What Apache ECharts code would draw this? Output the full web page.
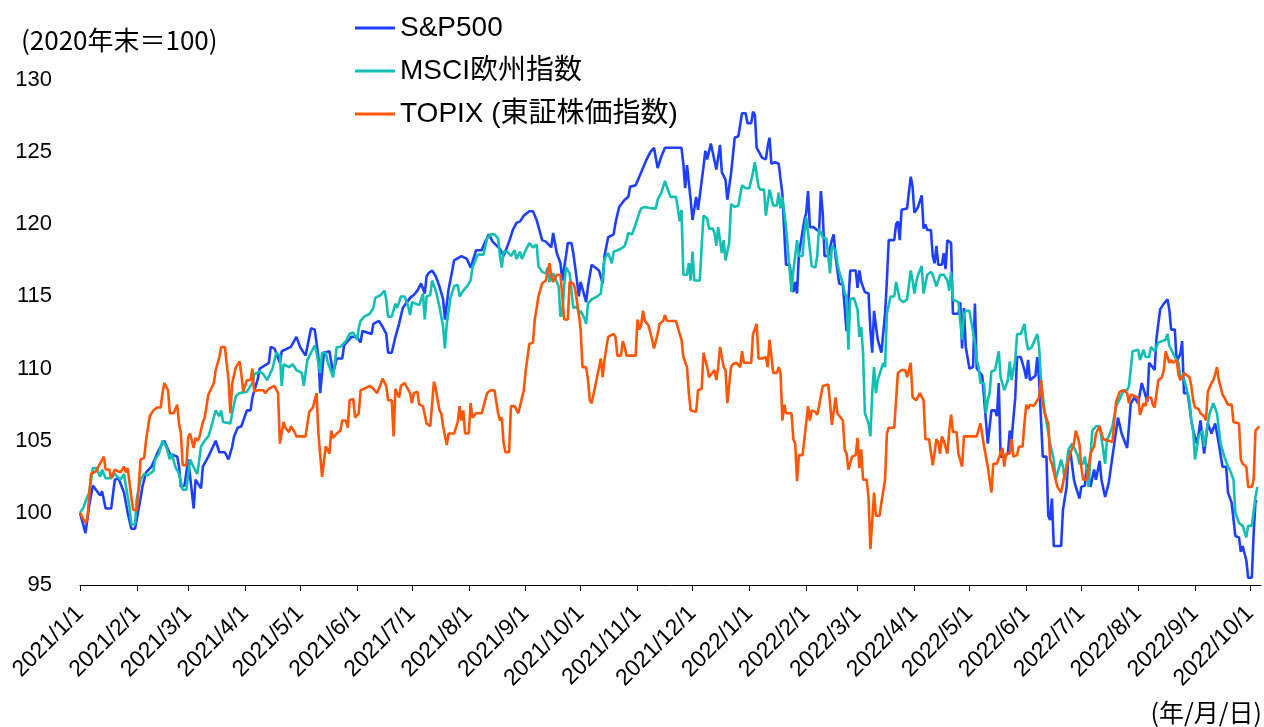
<!DOCTYPE html>
<html>
<head>
<meta charset="utf-8">
<script src="https://cdn.jsdelivr.net/npm/echarts@6.0.0/dist/echarts.min.js"></script>
<style>
    html, body { margin: 0; padding: 0; background: #fff; }
    #main { width: 1264px; height: 727px; }
</style>
</head>
<body>
<div id="main"></div>
<script>
    // 2020年末＝100 として読み取った値
    let spx500 = [
        ['2021/1/1',100],['2021/1/4',98.6],['2021/1/6',100.5],['2021/1/8',101.9],['2021/1/12',101.2],['2021/1/13',101.5],
        ['2021/1/15',100.3],['2021/1/18',100.3],['2021/1/20',102.3],['2021/1/22',102.4],['2021/1/25',101.4],['2021/1/27',100.0],
        ['2021/1/29',98.9],['2021/1/31',98.9],['2021/2/3',101.0],['2021/2/4',101.8],['2021/2/6',102.8],['2021/2/9',103.2],
        ['2021/2/12',104.1],['2021/2/14',104.6],['2021/2/16',105.0],['2021/2/19',104.1],['2021/2/23',103.9],['2021/2/24',103.2],
        ['2021/2/25',101.8],['2021/2/27',101.9],['2021/3/1',103.7],['2021/3/4',100.3],['2021/3/5',102.3],['2021/3/8',101.7],
        ['2021/3/9',103.2],['2021/3/12',103.9],['2021/3/16',105.0],['2021/3/17',104.9],['2021/3/18',104.2],['2021/3/21',104.2],
        ['2021/3/23',103.7],['2021/3/25',104.6],['2021/3/26',105.3],['2021/3/28',105.9],['2021/3/30',106.0],['2021/4/2',107.1],
        ['2021/4/4',107.1],['2021/4/5',108.0],['2021/4/8',109.3],['2021/4/9',110.0],['2021/4/14',110.4],['2021/4/15',111.5],
        ['2021/4/17',111.4],['2021/4/20',110.4],['2021/4/21',111.2],['2021/4/26',111.5],['2021/4/29',112.2],['2021/5/1',111.5],
        ['2021/5/4',110.9],['2021/5/7',112.8],['2021/5/9',112.7],['2021/5/11',110.8],['2021/5/12',108.3],['2021/5/14',111.1],
        ['2021/5/17',111.2],['2021/5/19',109.7],['2021/5/21',110.7],['2021/5/24',110.7],['2021/5/25',111.6],['2021/5/29',112.2],
        ['2021/6/1',112.2],['2021/6/3',111.8],['2021/6/4',112.6],['2021/6/9',112.4],['2021/6/10',113.1],['2021/6/13',113.3],
        ['2021/6/15',112.9],['2021/6/17',112.4],['2021/6/18',111.1],['2021/6/20',111.1],['2021/6/22',112.2],['2021/6/24',113.1],
        ['2021/6/26',114.2],['2021/6/30',114.9],['2021/7/2',115.1],['2021/7/4',115.4],['2021/7/6',115.9],['2021/7/8',115.2],
        ['2021/7/9',116.4],['2021/7/10',116.6],['2021/7/12',116.8],['2021/7/14',116.4],['2021/7/16',115.7],['2021/7/18',114.8],
        ['2021/7/19',113.4],['2021/7/21',115.5],['2021/7/23',116.8],['2021/7/24',117.5],['2021/7/28',117.8],['2021/7/31',117.6],
        ['2021/8/2',117.0],['2021/8/4',117.8],['2021/8/5',118.2],['2021/8/8',118.2],['2021/8/10',118.8],['2021/8/12',119.3],
        ['2021/8/14',118.8],['2021/8/18',118.3],['2021/8/20',117.8],['2021/8/23',118.8],['2021/8/25',119.6],['2021/8/27',120.1],
        ['2021/8/29',120.2],['2021/8/31',120.6],['2021/9/3',120.9],['2021/9/5',120.9],['2021/9/7',120.3],['2021/9/10',118.9],
        ['2021/9/12',118.8],['2021/9/15',118.4],['2021/9/16',119.4],['2021/9/18',118.0],['2021/9/20',117.3],['2021/9/21',116.1],
        ['2021/9/23',117.8],['2021/9/24',118.7],['2021/9/26',118.7],['2021/9/27',118.0],['2021/9/29',116.1],['2021/9/30',115.0],
        ['2021/10/1',116.0],['2021/10/4',114.6],['2021/10/5',115.7],['2021/10/7',117.2],['2021/10/11',116.8],['2021/10/13',115.9],
        ['2021/10/14',117.8],['2021/10/16',119.1],['2021/10/19',119.3],['2021/10/20',120.1],['2021/10/22',121.2],['2021/10/25',121.7],
        ['2021/10/27',121.9],['2021/10/28',122.6],['2021/10/31',122.7],['2021/11/2',123.3],['2021/11/4',123.9],['2021/11/6',124.5],
        ['2021/11/8',125.0],['2021/11/10',125.3],['2021/11/12',123.9],['2021/11/14',124.7],['2021/11/16',125.3],['2021/11/20',125.3],
        ['2021/11/23',125.3],['2021/11/25',125.3],['2021/11/26',124.2],['2021/11/27',122.5],['2021/11/28',124.1],['2021/11/30',121.7],
        ['2021/12/1',120.3],['2021/12/3',121.9],['2021/12/4',121.0],['2021/12/5',121.0],['2021/12/7',124.0],['2021/12/8',125.1],
        ['2021/12/9',124.5],['2021/12/11',125.6],['2021/12/12',125.6],['2021/12/14',123.8],['2021/12/16',125.5],['2021/12/17',123.6],
        ['2021/12/19',123.1],['2021/12/20',121.7],['2021/12/22',123.5],['2021/12/23',124.7],['2021/12/24',126.0],['2021/12/26',126.1],
        ['2021/12/28',127.7],['2021/12/30',127.7],['2021/12/31',127.0],['2022/1/2',127.0],['2022/1/3',127.8],['2022/1/4',127.6],
        ['2022/1/5',125.3],['2022/1/8',124.6],['2022/1/10',124.5],['2022/1/11',125.4],['2022/1/12',126.0],['2022/1/13',124.2],
        ['2022/1/15',124.3],['2022/1/17',124.2],['2022/1/19',122.1],['2022/1/20',119.6],['2022/1/21',117.2],['2022/1/23',117.2],
        ['2022/1/24',116.1],['2022/1/25',115.3],['2022/1/26',116.0],['2022/1/27',115.2],['2022/1/28',117.9],['2022/1/31',120.3],
        ['2022/2/1',120.8],['2022/2/2',122.3],['2022/2/3',119.8],['2022/2/5',119.8],['2022/2/8',119.5],['2022/2/9',122.3],
        ['2022/2/10',120.8],['2022/2/11',117.8],['2022/2/13',117.8],['2022/2/15',118.9],['2022/2/16',119.3],['2022/2/17',117.8],
        ['2022/2/18',116.8],['2022/2/19',115.9],['2022/2/21',115.8],['2022/2/23',112.6],['2022/2/24',112.7],['2022/2/25',116.8],
        ['2022/2/28',116.8],['2022/3/1',115.6],['2022/3/2',116.8],['2022/3/3',116.0],['2022/3/5',115.3],['2022/3/7',115.2],
        ['2022/3/8',112.7],['2022/3/9',111.1],['2022/3/10',114.0],['2022/3/12',112.0],['2022/3/13',112.0],['2022/3/14',111.1],
        ['2022/3/16',113.8],['2022/3/17',116.1],['2022/3/18',118.9],['2022/3/21',118.9],['2022/3/22',120.0],['2022/3/23',120.2],
        ['2022/3/24',118.9],['2022/3/25',121.0],['2022/3/26',121.1],['2022/3/28',121.1],['2022/3/30',123.3],['2022/3/31',122.6],
        ['2022/4/1',120.8],['2022/4/3',121.2],['2022/4/5',122.0],['2022/4/6',119.7],['2022/4/7',120.0],['2022/4/8',119.6],
        ['2022/4/10',119.6],['2022/4/11',117.8],['2022/4/12',117.3],['2022/4/13',118.5],['2022/4/14',117.2],['2022/4/16',117.2],
        ['2022/4/17',118.0],['2022/4/18',116.9],['2022/4/19',118.9],['2022/4/21',118.7],['2022/4/22',113.8],['2022/4/25',113.8],
        ['2022/4/26',114.6],['2022/4/27',111.4],['2022/4/28',114.2],['2022/4/29',111.5],['2022/5/1',110.0],['2022/5/3',110.1],
        ['2022/5/4',114.5],['2022/5/5',110.0],['2022/5/8',109.5],['2022/5/10',106.4],['2022/5/11',104.8],['2022/5/12',104.8],
        ['2022/5/13',107.1],['2022/5/15',107.1],['2022/5/16',106.7],['2022/5/17',109.0],['2022/5/18',103.9],['2022/5/20',103.9],
        ['2022/5/22',104.1],['2022/5/23',105.7],['2022/5/24',105.1],['2022/5/26',108.0],['2022/5/27',110.8],['2022/5/29',110.8],
        ['2022/5/31',109.9],['2022/6/1',109.3],['2022/6/2',110.6],['2022/6/3',109.2],['2022/6/6',109.5],['2022/6/7',110.8],
        ['2022/6/8',109.2],['2022/6/10',103.9],['2022/6/12',103.9],['2022/6/13',99.8],['2022/6/14',99.5],['2022/6/15',101.0],
        ['2022/6/16',97.7],['2022/6/20',97.7],['2022/6/21',100.2],['2022/6/23',101.8],['2022/6/24',104.1],['2022/6/25',104.3],
        ['2022/6/27',102.3],['2022/6/28',101.8],['2022/6/30',101.0],['2022/7/1',101.8],['2022/7/3',101.9],['2022/7/4',103.4],
        ['2022/7/6',101.8],['2022/7/8',103.0],['2022/7/9',102.3],['2022/7/11',103.6],['2022/7/12',102.3],['2022/7/14',101.1],
        ['2022/7/16',102.1],['2022/7/19',104.8],['2022/7/21',106.6],['2022/7/23',105.5],['2022/7/26',104.5],['2022/7/27',106.0],
        ['2022/7/28',107.6],['2022/7/30',108.0],['2022/8/1',107.6],['2022/8/3',109.0],['2022/8/6',107.7],['2022/8/7',110.4],
        ['2022/8/10',109.9],['2022/8/11',112.1],['2022/8/13',114.1],['2022/8/14',114.1],['2022/8/15',114.5],['2022/8/17',114.8],
        ['2022/8/18',114.1],['2022/8/19',112.7],['2022/8/21',112.7],['2022/8/22',110.5],['2022/8/24',111.0],['2022/8/25',111.9],
        ['2022/8/26',108.3],['2022/8/28',108.3],['2022/8/29',107.4],['2022/8/30',106.4],['2022/8/31',105.7],['2022/9/2',104.8],
        ['2022/9/3',105.5],['2022/9/4',106.4],['2022/9/6',104.1],['2022/9/8',106.2],['2022/9/10',105.5],['2022/9/12',106.2],
        ['2022/9/14',104.8],['2022/9/16',103.2],['2022/9/18',103.2],['2022/9/19',101.4],['2022/9/21',100.7],['2022/9/23',98.4],
        ['2022/9/25',98.3],['2022/9/26',97.3],['2022/9/27',97.7],['2022/9/29',96.7],['2022/9/30',95.5],['2022/10/2',95.5],
        ['2022/10/3',98.6],['2022/10/4',100.8],['2022/10/5',100.8]
    ];

    let msciEurope = [
        ['2021/1/1',100],['2021/1/3',100.4],['2021/1/4',100.8],['2021/1/6',101.4],['2021/1/8',103.1],['2021/1/10',103.1],
        ['2021/1/12',102.5],['2021/1/13',103.0],['2021/1/15',102.4],['2021/1/18',102.4],['2021/1/20',102.7],['2021/1/21',102.7],
        ['2021/1/23',102.3],['2021/1/25',102.7],['2021/1/26',101.9],['2021/1/28',100.4],['2021/1/29',99.2],['2021/1/31',99.2],
        ['2021/2/1',101.0],['2021/2/3',102.3],['2021/2/5',102.7],['2021/2/7',102.6],['2021/2/10',102.9],['2021/2/11',103.7],
        ['2021/2/13',104.1],['2021/2/15',105.0],['2021/2/17',104.6],['2021/2/19',103.7],['2021/2/20',104.1],['2021/2/22',103.2],
        ['2021/2/24',102.7],['2021/2/26',101.6],['2021/2/28',101.6],['2021/3/2',103.7],['2021/3/3',103.7],['2021/3/5',102.9],
        ['2021/3/6',102.7],['2021/3/8',104.6],['2021/3/10',105.0],['2021/3/12',105.3],['2021/3/13',105.7],['2021/3/14',105.7],
        ['2021/3/16',107.1],['2021/3/18',106.7],['2021/3/19',107.1],['2021/3/20',106.3],['2021/3/24',106.2],['2021/3/25',106.9],
        ['2021/3/27',108.1],['2021/3/29',108.3],['2021/4/2',108.4],['2021/4/3',108.5],['2021/4/5',109.0],['2021/4/6',109.6],
        ['2021/4/9',109.8],['2021/4/11',109.6],['2021/4/13',109.2],['2021/4/14',109.2],['2021/4/16',110.0],['2021/4/18',111.1],
        ['2021/4/20',110.9],['2021/4/21',108.8],['2021/4/22',110.3],['2021/4/25',110.1],['2021/4/27',110.3],['2021/4/29',109.9],
        ['2021/5/2',109.7],['2021/5/3',108.8],['2021/5/5',110.6],['2021/5/7',111.1],['2021/5/9',111.6],['2021/5/10',111.1],
        ['2021/5/12',109.7],['2021/5/13',111.1],['2021/5/15',111.1],['2021/5/16',110.5],['2021/5/19',109.4],['2021/5/21',111.5],
        ['2021/5/23',111.5],['2021/5/26',111.9],['2021/5/28',112.4],['2021/5/30',112.5],['2021/6/1',112.0],['2021/6/2',112.8],
        ['2021/6/3',113.3],['2021/6/5',113.6],['2021/6/8',113.8],['2021/6/10',114.2],['2021/6/11',114.9],['2021/6/14',115.1],
        ['2021/6/16',115.4],['2021/6/17',114.8],['2021/6/18',113.6],['2021/6/20',113.6],['2021/6/22',114.5],['2021/6/23',114.2],
        ['2021/6/25',115.0],['2021/6/27',115.0],['2021/6/29',114.3],['2021/6/30',113.7],['2021/7/1',114.6],['2021/7/5',114.4],
        ['2021/7/7',115.2],['2021/7/8',113.4],['2021/7/9',115.0],['2021/7/11',115.1],['2021/7/12',116.1],['2021/7/14',115.4],
        ['2021/7/16',114.3],['2021/7/18',112.9],['2021/7/19',111.4],['2021/7/20',113.1],['2021/7/22',114.9],['2021/7/24',115.7],
        ['2021/7/26',115.8],['2021/7/27',115.0],['2021/7/29',115.4],['2021/7/31',115.7],['2021/8/2',116.1],['2021/8/3',117.0],
        ['2021/8/6',117.9],['2021/8/9',117.9],['2021/8/11',119.0],['2021/8/13',119.3],['2021/8/15',119.3],['2021/8/17',119.0],
        ['2021/8/18',117.8],['2021/8/19',117.0],['2021/8/20',118.1],['2021/8/22',118.1],['2021/8/24',117.8],['2021/8/26',118.2],
        ['2021/8/27',117.6],['2021/8/29',118.1],['2021/8/30',117.6],['2021/9/1',118.2],['2021/9/3',118.7],['2021/9/5',118.4],
        ['2021/9/7',118.6],['2021/9/8',117.1],['2021/9/10',116.7],['2021/9/12',116.6],['2021/9/13',117.0],['2021/9/14',116.0],
        ['2021/9/16',116.6],['2021/9/17',116.6],['2021/9/19',115.7],['2021/9/20',113.6],['2021/9/21',113.8],['2021/9/22',115.7],
        ['2021/9/23',117.0],['2021/9/25',116.6],['2021/9/27',114.2],['2021/9/29',114.3],['2021/9/30',113.8],['2021/10/1',114.0],
        ['2021/10/3',113.5],['2021/10/4',113.1],['2021/10/5',114.5],['2021/10/7',114.8],['2021/10/8',114.8],['2021/10/10',115.0],
        ['2021/10/12',115.2],['2021/10/14',117.6],['2021/10/16',118.0],['2021/10/18',117.3],['2021/10/19',118.1],['2021/10/20',118.1],
        ['2021/10/23',118.3],['2021/10/25',118.5],['2021/10/26',118.9],['2021/10/27',119.4],['2021/10/29',119.3],['2021/10/31',120.0],
        ['2021/11/2',120.8],['2021/11/3',121.1],['2021/11/5',121.2],['2021/11/9',121.1],['2021/11/11',121.1],['2021/11/12',121.7],
        ['2021/11/14',122.2],['2021/11/16',123.0],['2021/11/17',122.6],['2021/11/19',121.9],['2021/11/22',121.9],['2021/11/23',121.1],
        ['2021/11/24',120.2],['2021/11/25',121.0],['2021/11/26',116.5],['2021/11/28',116.5],['2021/11/29',117.3],['2021/11/30',116.1],
        ['2021/12/1',118.1],['2021/12/2',116.1],['2021/12/5',116.1],['2021/12/6',118.5],['2021/12/7',120.6],['2021/12/9',120.4],
        ['2021/12/10',119.7],['2021/12/12',119.7],['2021/12/13',119.4],['2021/12/14',118.5],['2021/12/15',119.8],['2021/12/17',118.0],
        ['2021/12/18',118.9],['2021/12/19',117.5],['2021/12/21',118.7],['2021/12/22',121.4],['2021/12/24',121.2],['2021/12/26',121.3],
        ['2021/12/28',122.7],['2021/12/30',122.5],['2022/1/1',122.5],['2022/1/3',123.6],['2022/1/4',124.3],['2022/1/6',122.6],
        ['2022/1/7',122.4],['2022/1/9',122.4],['2022/1/10',120.6],['2022/1/12',122.4],['2022/1/13',122.5],['2022/1/14',121.3],
        ['2022/1/16',121.3],['2022/1/17',122.2],['2022/1/18',121.1],['2022/1/19',121.9],['2022/1/21',119.8],['2022/1/22',119.8],
        ['2022/1/24',115.3],['2022/1/25',116.8],['2022/1/26',117.8],['2022/1/27',118.9],['2022/1/28',117.8],['2022/1/30',117.8],
        ['2022/1/31',119.4],['2022/2/1',120.5],['2022/2/2',119.4],['2022/2/4',117.1],['2022/2/6',117.0],['2022/2/7',117.8],
        ['2022/2/8',119.7],['2022/2/10',119.1],['2022/2/12',119.0],['2022/2/13',119.0],['2022/2/14',116.6],['2022/2/15',118.5],
        ['2022/2/17',118.2],['2022/2/18',117.3],['2022/2/19',116.7],['2022/2/20',116.6],['2022/2/21',115.9],['2022/2/22',115.2],
        ['2022/2/23',115.0],['2022/2/24',111.3],['2022/2/25',114.8],['2022/2/27',114.9],['2022/3/1',114.1],['2022/3/2',112.2],
        ['2022/3/3',112.9],['2022/3/4',111.1],['2022/3/5',106.9],['2022/3/6',106.9],['2022/3/7',106.2],['2022/3/8',105.3],
        ['2022/3/9',108.3],['2022/3/10',110.1],['2022/3/11',108.3],['2022/3/12',109.2],['2022/3/13',109.2],['2022/3/15',110.4],
        ['2022/3/16',110.1],['2022/3/17',113.8],['2022/3/19',115.0],['2022/3/21',115.0],['2022/3/22',116.0],['2022/3/24',114.8],
        ['2022/3/26',114.6],['2022/3/28',114.8],['2022/3/30',116.8],['2022/3/31',116.1],['2022/4/1',115.2],['2022/4/2',116.0],
        ['2022/4/3',116.5],['2022/4/5',117.1],['2022/4/6',115.2],['2022/4/8',116.5],['2022/4/10',116.7],['2022/4/11',116.5],
        ['2022/4/13',115.7],['2022/4/15',116.5],['2022/4/17',116.5],['2022/4/19',116.1],['2022/4/20',115.4],['2022/4/21',116.7],
        ['2022/4/22',114.8],['2022/4/25',114.6],['2022/4/27',112.0],['2022/4/28',113.8],['2022/4/29',114.0],['2022/5/1',114.0],
        ['2022/5/4',111.8],['2022/5/5',110.6],['2022/5/6',110.1],['2022/5/7',109.0],['2022/5/9',109.0],['2022/5/10',106.9],
        ['2022/5/11',107.8],['2022/5/12',108.3],['2022/5/13',109.8],['2022/5/15',109.9],['2022/5/17',111.2],['2022/5/18',109.4],
        ['2022/5/20',108.5],['2022/5/22',109.2],['2022/5/23',110.5],['2022/5/24',109.2],['2022/5/26',110.6],['2022/5/27',112.4],
        ['2022/5/29',112.4],['2022/5/31',113.1],['2022/6/1',112.0],['2022/6/2',111.3],['2022/6/4',111.5],['2022/6/5',111.5],
        ['2022/6/7',112.4],['2022/6/8',111.5],['2022/6/9',109.2],['2022/6/11',107.1],['2022/6/12',107.1],['2022/6/14',104.8],
        ['2022/6/16',103.7],['2022/6/17',102.3],['2022/6/19',103.2],['2022/6/20',103.7],['2022/6/21',103.2],['2022/6/22',102.3],
        ['2022/6/24',104.4],['2022/6/26',104.8],['2022/6/27',104.8],['2022/6/29',104.0],['2022/6/30',103.4],['2022/7/2',103.4],
        ['2022/7/3',103.9],['2022/7/5',101.8],['2022/7/6',103.9],['2022/7/7',105.7],['2022/7/9',106.0],['2022/7/11',106.0],
        ['2022/7/12',105.2],['2022/7/14',103.4],['2022/7/15',105.1],['2022/7/16',105.3],['2022/7/18',106.0],['2022/7/20',107.4],
        ['2022/7/22',107.9],['2022/7/24',108.5],['2022/7/26',108.5],['2022/7/27',108.8],['2022/7/29',111.2],['2022/7/30',111.3],
        ['2022/8/1',111.3],['2022/8/2',110.6],['2022/8/4',111.3],['2022/8/5',110.8],['2022/8/7',110.8],['2022/8/8',111.5],
        ['2022/8/10',111.2],['2022/8/12',111.8],['2022/8/13',111.9],['2022/8/16',112.0],['2022/8/17',112.4],['2022/8/18',111.6],
        ['2022/8/19',111.5],['2022/8/21',110.8],['2022/8/23',110.4],['2022/8/24',109.4],['2022/8/26',109.3],['2022/8/27',108.8],
        ['2022/8/29',107.8],['2022/8/30',106.4],['2022/8/31',105.7],['2022/9/1',103.7],['2022/9/3',105.3],['2022/9/5',105.7],
        ['2022/9/6',104.6],['2022/9/8',106.2],['2022/9/9',106.9],['2022/9/11',107.6],['2022/9/13',106.9],['2022/9/15',104.8],
        ['2022/9/17',103.9],['2022/9/19',103.2],['2022/9/20',103.0],['2022/9/22',102.3],['2022/9/23',100.0],['2022/9/25',99.3],
        ['2022/9/27',99.1],['2022/9/29',98.3],['2022/9/30',99.1],['2022/10/2',99.1],['2022/10/4',101.1],['2022/10/5',101.8]
    ];

    let topix = [
        ['2021/1/1',100],['2021/1/2',100.0],['2021/1/4',99.3],['2021/1/5',99.6],['2021/1/7',102.7],['2021/1/10',102.9],
        ['2021/1/11',103.2],['2021/1/14',103.9],['2021/1/15',103.0],['2021/1/17',103.0],['2021/1/18',102.4],['2021/1/20',103.0],
        ['2021/1/21',103.1],['2021/1/23',102.8],['2021/1/25',103.2],['2021/1/26',102.8],['2021/1/27',103.1],['2021/1/29',101.1],
        ['2021/1/30',100.2],['2021/2/1',100.2],['2021/2/2',101.8],['2021/2/3',103.7],['2021/2/5',103.8],['2021/2/6',105.0],
        ['2021/2/8',106.7],['2021/2/10',107.1],['2021/2/12',107.3],['2021/2/14',107.3],['2021/2/15',108.3],['2021/2/16',109.0],
        ['2021/2/18',108.5],['2021/2/19',106.9],['2021/2/21',106.9],['2021/2/23',107.5],['2021/2/24',106.2],['2021/2/25',105.5],
        ['2021/2/26',103.3],['2021/2/28',103.3],['2021/3/1',105.2],['2021/3/2',105.5],['2021/3/4',104.5],['2021/3/5',105.2],
        ['2021/3/6',105.0],['2021/3/7',105.2],['2021/3/9',106.3],['2021/3/10',106.6],['2021/3/12',108.2],['2021/3/13',108.2],
        ['2021/3/15',109.0],['2021/3/16',109.9],['2021/3/18',110.8],['2021/3/19',111.5],['2021/3/21',111.5],['2021/3/23',109.2],
        ['2021/3/24',106.9],['2021/3/25',109.0],['2021/3/27',110.1],['2021/3/29',110.5],['2021/3/30',109.6],['2021/3/31',108.4],
        ['2021/4/2',109.2],['2021/4/4',109.2],['2021/4/5',110.0],['2021/4/6',108.4],['2021/4/8',108.5],['2021/4/11',108.5],
        ['2021/4/12',108.3],['2021/4/14',108.6],['2021/4/17',108.8],['2021/4/19',108.3],['2021/4/20',104.8],['2021/4/22',106.3],
        ['2021/4/23',105.9],['2021/4/25',105.6],['2021/4/26',106.0],['2021/4/28',105.6],['2021/4/29',105.3],['2021/5/4',105.3],
        ['2021/5/6',107.0],['2021/5/8',107.3],['2021/5/10',108.3],['2021/5/11',105.5],['2021/5/13',102.5],['2021/5/15',104.6],
        ['2021/5/16',104.4],['2021/5/17',104.1],['2021/5/18',105.7],['2021/5/19',105.2],['2021/5/21',105.5],['2021/5/23',105.7],
        ['2021/5/24',106.4],['2021/5/26',106.4],['2021/5/27',105.9],['2021/5/28',107.8],['2021/5/30',107.9],['2021/5/31',106.6],
        ['2021/6/2',106.9],['2021/6/3',108.5],['2021/6/5',108.6],['2021/6/8',108.8],['2021/6/10',108.6],['2021/6/12',108.3],
        ['2021/6/13',108.6],['2021/6/15',109.3],['2021/6/16',109.4],['2021/6/17',108.8],['2021/6/18',107.8],['2021/6/20',107.8],
        ['2021/6/21',105.3],['2021/6/22',108.6],['2021/6/24',108.0],['2021/6/25',108.8],['2021/6/27',109.0],['2021/6/28',109.1],
        ['2021/6/30',108.3],['2021/7/1',107.6],['2021/7/2',108.3],['2021/7/4',108.4],['2021/7/5',107.5],['2021/7/7',107.4],
        ['2021/7/9',106.2],['2021/7/11',106.0],['2021/7/13',109.1],['2021/7/14',108.6],['2021/7/16',107.1],['2021/7/17',106.9],
        ['2021/7/18',106.0],['2021/7/20',104.7],['2021/7/21',105.5],['2021/7/24',105.5],['2021/7/26',106.3],['2021/7/27',107.4],
        ['2021/7/28',106.4],['2021/7/29',107.1],['2021/7/30',105.5],['2021/8/1',105.5],['2021/8/2',107.6],['2021/8/3',106.6],
        ['2021/8/5',106.9],['2021/8/8',106.9],['2021/8/9',107.0],['2021/8/11',108.3],['2021/8/13',108.5],['2021/8/15',108.5],
        ['2021/8/17',106.9],['2021/8/18',106.4],['2021/8/19',106.6],['2021/8/20',104.8],['2021/8/21',104.2],['2021/8/23',104.2],
        ['2021/8/24',107.4],['2021/8/26',107.4],['2021/8/28',106.9],['2021/8/29',107.0],['2021/8/31',108.5],['2021/9/1',109.8],
        ['2021/9/3',111.7],['2021/9/5',111.8],['2021/9/6',113.4],['2021/9/8',115.0],['2021/9/10',115.9],['2021/9/12',116.1],
        ['2021/9/14',117.3],['2021/9/15',116.4],['2021/9/16',116.0],['2021/9/18',116.5],['2021/9/20',116.5],['2021/9/21',115.0],
        ['2021/9/22',113.4],['2021/9/24',113.4],['2021/9/25',116.0],['2021/9/27',115.9],['2021/9/28',115.5],['2021/9/30',113.8],
        ['2021/10/1',112.7],['2021/10/2',110.1],['2021/10/4',110.1],['2021/10/5',109.2],['2021/10/6',107.8],['2021/10/7',107.6],
        ['2021/10/9',108.8],['2021/10/10',108.9],['2021/10/12',110.7],['2021/10/13',109.4],['2021/10/14',110.6],['2021/10/16',112.2],
        ['2021/10/17',112.2],['2021/10/19',112.4],['2021/10/20',112.2],['2021/10/21',110.9],['2021/10/23',110.9],['2021/10/24',111.9],
        ['2021/10/25',111.5],['2021/10/26',110.9],['2021/10/31',110.9],['2021/11/1',113.4],['2021/11/2',112.7],['2021/11/3',113.0],
        ['2021/11/4',114.0],['2021/11/5',113.3],['2021/11/7',113.0],['2021/11/8',112.9],['2021/11/9',112.0],['2021/11/10',111.4],
        ['2021/11/12',112.4],['2021/11/13',113.1],['2021/11/15',113.3],['2021/11/16',113.7],['2021/11/17',113.3],['2021/11/22',113.3],
        ['2021/11/24',112.4],['2021/11/25',112.0],['2021/11/26',110.8],['2021/11/28',110.1],['2021/11/29',108.3],['2021/11/30',107.1],
        ['2021/12/1',107.1],['2021/12/3',107.0],['2021/12/4',108.5],['2021/12/6',108.6],['2021/12/7',111.1],['2021/12/9',110.1],
        ['2021/12/10',109.4],['2021/12/11',109.4],['2021/12/13',109.9],['2021/12/14',109.2],['2021/12/15',110.1],['2021/12/16',111.5],
        ['2021/12/18',110.1],['2021/12/19',109.9],['2021/12/20',107.6],['2021/12/22',110.1],['2021/12/23',110.3],['2021/12/25',110.4],
        ['2021/12/27',110.1],['2021/12/28',111.2],['2021/12/29',110.4],['2021/12/31',110.4],['2022/1/2',110.4],['2022/1/3',112.4],
        ['2022/1/5',113.1],['2022/1/6',110.7],['2022/1/8',110.7],['2022/1/10',110.8],['2022/1/11',110.1],['2022/1/12',112.0],
        ['2022/1/14',109.7],['2022/1/16',109.7],['2022/1/17',110.1],['2022/1/18',109.7],['2022/1/19',106.4],['2022/1/20',107.5],
        ['2022/1/21',106.9],['2022/1/24',106.9],['2022/1/25',105.1],['2022/1/26',104.8],['2022/1/27',102.2],['2022/1/28',104.0],
        ['2022/1/30',104.0],['2022/1/31',105.1],['2022/2/1',105.1],['2022/2/2',107.4],['2022/2/3',106.4],['2022/2/4',107.1],
        ['2022/2/6',107.0],['2022/2/7',106.8],['2022/2/8',107.4],['2022/2/10',108.8],['2022/2/11',108.9],['2022/2/13',108.9],
        ['2022/2/14',107.6],['2022/2/15',106.1],['2022/2/17',108.0],['2022/2/18',106.9],['2022/2/19',106.9],['2022/2/21',106.4],
        ['2022/2/22',104.4],['2022/2/23',104.1],['2022/2/24',103.0],['2022/2/26',103.9],['2022/2/28',104.0],['2022/3/1',105.2],
        ['2022/3/2',103.1],['2022/3/3',104.4],['2022/3/4',102.3],['2022/3/6',102.3],['2022/3/7',101.0],['2022/3/8',97.5],
        ['2022/3/9',97.5],['2022/3/10',101.4],['2022/3/11',99.8],['2022/3/13',99.8],['2022/3/14',100.7],['2022/3/16',102.3],
        ['2022/3/17',105.5],['2022/3/18',105.9],['2022/3/21',105.9],['2022/3/22',107.8],['2022/3/23',109.7],['2022/3/25',109.9],
        ['2022/3/27',109.9],['2022/3/28',109.4],['2022/3/30',110.4],['2022/3/31',108.0],['2022/4/2',107.8],['2022/4/3',107.8],
        ['2022/4/4',108.3],['2022/4/6',107.8],['2022/4/7',105.1],['2022/4/9',105.1],['2022/4/10',105.0],['2022/4/11',103.3],
        ['2022/4/13',105.1],['2022/4/14',104.9],['2022/4/15',104.1],['2022/4/16',105.3],['2022/4/17',105.0],['2022/4/19',104.1],
        ['2022/4/20',105.7],['2022/4/21',106.8],['2022/4/22',105.6],['2022/4/24',105.6],['2022/4/25',104.1],['2022/4/26',104.1],
        ['2022/4/27',103.2],['2022/4/28',105.3],['2022/5/5',105.3],['2022/5/7',106.2],['2022/5/8',106.2],['2022/5/9',104.6],
        ['2022/5/11',103.2],['2022/5/12',102.3],['2022/5/13',101.4],['2022/5/14',103.4],['2022/5/16',103.4],['2022/5/17',103.5],
        ['2022/5/19',104.5],['2022/5/20',103.2],['2022/5/21',104.1],['2022/5/23',104.1],['2022/5/24',105.1],['2022/5/25',103.9],
        ['2022/5/27',104.0],['2022/5/28',104.6],['2022/5/30',104.6],['2022/5/31',106.2],['2022/6/1',107.5],['2022/6/2',107.2],
        ['2022/6/3',107.5],['2022/6/5',107.4],['2022/6/6',107.6],['2022/6/8',108.0],['2022/6/9',109.2],['2022/6/10',107.6],
        ['2022/6/11',106.9],['2022/6/13',106.2],['2022/6/14',103.7],['2022/6/15',103.4],['2022/6/17',102.3],['2022/6/18',101.8],
        ['2022/6/19',101.8],['2022/6/20',101.4],['2022/6/22',102.7],['2022/6/23',102.7],['2022/6/25',104.1],['2022/6/27',104.8],
        ['2022/6/28',105.7],['2022/6/30',104.8],['2022/7/1',103.2],['2022/7/2',102.3],['2022/7/4',102.3],['2022/7/5',103.2],
        ['2022/7/6',104.1],['2022/7/8',104.6],['2022/7/9',105.5],['2022/7/11',106.0],['2022/7/13',105.1],['2022/7/16',105.0],
        ['2022/7/18',104.9],['2022/7/19',106.4],['2022/7/20',107.7],['2022/7/22',108.4],['2022/7/24',108.5],['2022/7/26',108.3],
        ['2022/7/27',107.6],['2022/7/28',108.2],['2022/7/30',108.1],['2022/8/1',108.0],['2022/8/2',106.8],['2022/8/4',107.6],
        ['2022/8/5',107.4],['2022/8/6',108.0],['2022/8/8',108.0],['2022/8/9',107.5],['2022/8/10',107.3],['2022/8/11',107.3],
        ['2022/8/12',109.2],['2022/8/14',109.4],['2022/8/15',109.9],['2022/8/16',111.2],['2022/8/18',110.4],['2022/8/19',110.6],
        ['2022/8/20',110.4],['2022/8/22',110.6],['2022/8/23',109.6],['2022/8/24',109.2],['2022/8/26',109.7],['2022/8/27',109.6],
        ['2022/8/29',109.4],['2022/8/30',108.8],['2022/8/31',107.8],['2022/9/1',107.3],['2022/9/3',107.2],['2022/9/4',106.9],
        ['2022/9/6',106.7],['2022/9/7',106.4],['2022/9/8',108.4],['2022/9/10',109.0],['2022/9/11',109.2],['2022/9/12',109.6],
        ['2022/9/13',110.1],['2022/9/14',109.2],['2022/9/16',108.2],['2022/9/17',108.0],['2022/9/19',107.5],['2022/9/21',107.5],
        ['2022/9/22',106.3],['2022/9/25',106.2],['2022/9/26',103.7],['2022/9/27',103.4],['2022/9/29',103.2],['2022/9/30',101.8],
        ['2022/10/2',101.8],['2022/10/3',102.3],['2022/10/4',105.7],['2022/10/6',106.0]
    ];

    let seriesNames = ['S&P500', 'MSCI欧州指数', 'TOPIX (東証株価指数)'];
    let seriesColors = ['#1f3fff', '#12bfb2', '#ff5608'];
    let xMin = '2021/1/1';
    let xMax = '2022/10/7';

    let latin = "'Liberation Sans', 'Noto Sans CJK JP', sans-serif";
    let cjk = "'Noto Sans CJK JP', sans-serif";
    let DAY = 24 * 3600 * 1000;

    let myChart = echarts.init(document.getElementById('main'), null, { renderer: 'canvas' });
    let option = {
        animation: false,
        backgroundColor: '#fff',
        grid: {
            left: 80,
            right: 3,
            top: 80,
            bottom: 142,
            containLabel: false,
            outerBoundsMode: 'none'
        },
        legend: {
            orient: 'vertical',
            left: 355,
            top: 13,
            padding: 0,
            itemGap: 13,
            itemWidth: 40,
            itemHeight: 3,
            icon: 'rect',
            data: seriesNames,
            textStyle: {
                fontFamily: latin,
                fontSize: 28,
                lineHeight: 30,
                color: '#000'
            }
        },
        xAxis: {
            type: 'time',
            min: xMin,
            max: xMax,
            splitNumber: 21,
            minInterval: 28 * DAY,
            maxInterval: 31 * DAY,
            axisLine: { lineStyle: { color: '#000', width: 1 } },
            axisTick: { show: true, length: 6, lineStyle: { color: '#000' } },
            splitLine: { show: false },
            axisLabel: {
                rotate: 45,
                margin: 25,
                fontFamily: latin,
                fontSize: 23,
                color: '#000',
                showMaxLabel: false,
                formatter: '{yyyy}/{M}/{d}'
            }
        },
        yAxis: {
            type: 'value',
            min: 95,
            max: 130,
            interval: 5,
            axisLine: { show: false },
            axisTick: { show: false },
            splitLine: { show: false },
            axisLabel: {
                margin: 28,
                fontFamily: latin,
                fontSize: 22,
                color: '#000'
            }
        },
        graphic: [
            {
                type: 'text',
                left: 21,
                top: 27,
                style: { text: '(2020年末＝100)', font: '26px ' + cjk, fill: '#000' }
            },
            {
                type: 'text',
                right: 2,
                top: 700,
                style: { text: '(年/月/日)', font: '25px ' + cjk, fill: '#000' }
            }
        ],
        series: [
            {
                name: seriesNames[0],
                type: 'line',
                data: spx500,
                showSymbol: false,
                symbol: 'none',
                color: seriesColors[0],
                lineStyle: { width: 2.6, color: seriesColors[0] }
            },
            {
                name: seriesNames[1],
                type: 'line',
                data: msciEurope,
                showSymbol: false,
                symbol: 'none',
                color: seriesColors[1],
                lineStyle: { width: 2.6, color: seriesColors[1] }
            },
            {
                name: seriesNames[2],
                type: 'line',
                data: topix,
                showSymbol: false,
                symbol: 'none',
                color: seriesColors[2],
                lineStyle: { width: 2.6, color: seriesColors[2] }
            }
        ]
    };
    myChart.setOption(option);
</script>
</body>
</html>
